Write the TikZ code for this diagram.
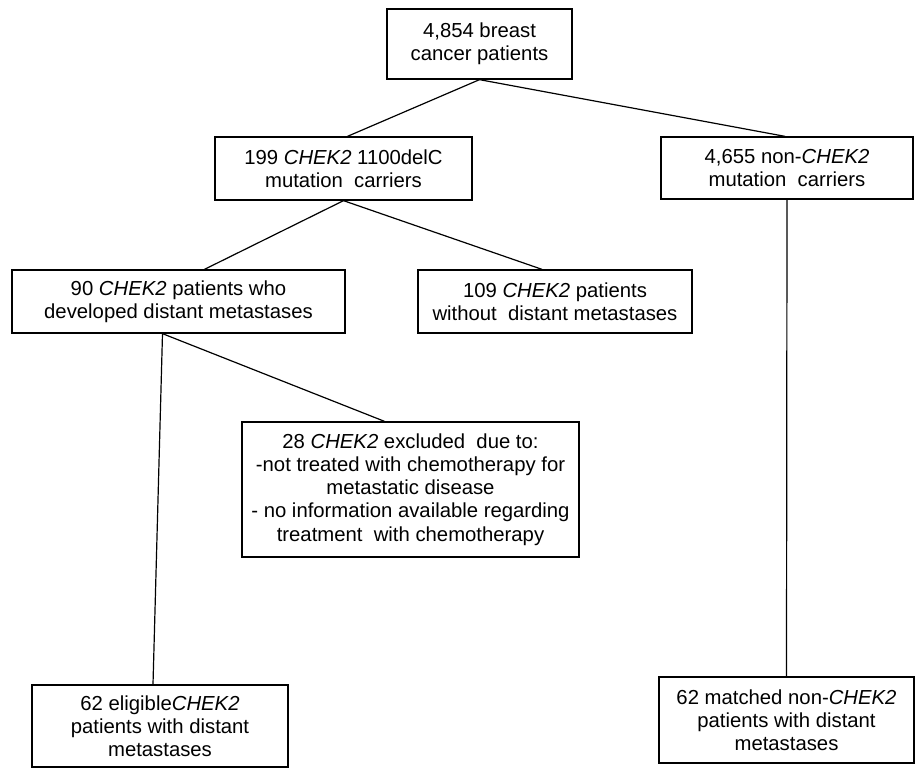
\documentclass[tikz,border=0pt]{standalone}
\usepackage{fontspec}
\setmainfont{Liberation Sans}
\begin{document}
\begin{tikzpicture}[x=1pt,y=-1pt,
  box/.style={draw, line width=1.3pt, inner sep=0pt, align=center,
    font=\fontsize{20.3}{23.2}\selectfont},
  link/.style={line width=1.2pt}]
\useasboundingbox[fill=white] (0,0) rectangle (916,768);
\node[box, minimum width=185pt, minimum height=70pt] (A) at (479.5,44) {4,854 breast\\cancer patients};
\node[box, minimum width=257pt, minimum height=63pt] (B) at (343.5,168.5) {199 \textit{CHEK2} 1100delC\\mutation\ \ carriers};
\node[box, minimum width=252pt, minimum height=62pt] (C) at (787,168) {4,655 non-\textit{CHEK2}\\mutation\ \ carriers};
\node[box, minimum width=333pt, minimum height=63pt] (D) at (178.5,301.5) {90 \textit{CHEK2} patients who\\developed distant metastases};
\node[box, minimum width=274pt, minimum height=63pt] (E) at (555,301.5) {109 \textit{CHEK2} patients\\without\ \ distant metastases};
\node[box, minimum width=337pt, minimum height=135pt] (F) at (410.5,489.5) {28 \textit{CHEK2} excluded\ \ due to:\\-not treated with chemotherapy for\\metastatic disease\\- no information available regarding\\treatment\ \ with chemotherapy};
\node[box, minimum width=256pt, minimum height=82pt] (G) at (160,726) {62 eligible\textit{CHEK2}\\patients with distant\\metastases};
\node[box, minimum width=255pt, minimum height=86pt] (H) at (786.5,720) {62 matched non-\textit{CHEK2}\\patients with distant\\metastases};
\draw[link] (A.south) -- ([xshift=4pt]B.north);
\draw[link] (A.south) -- ([xshift=-2pt]C.north);
\draw[link] (B.south) -- ([xshift=26pt]D.north);
\draw[link] (B.south) -- ([xshift=-13pt]E.north);
\draw[link] ([xshift=-16pt]D.south) -- ([xshift=-26pt]F.north);
\draw[link] ([xshift=-16pt]D.south) -- ([xshift=-7pt]G.north);
\draw[link] (C.south) -- (H.north);
\end{tikzpicture}
\end{document}
